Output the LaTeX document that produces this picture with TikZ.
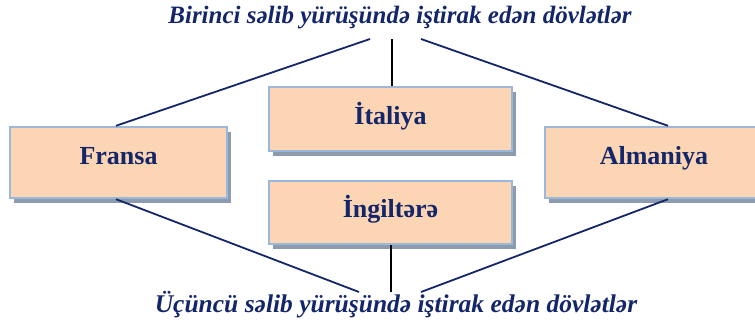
\documentclass[tikz,border=0pt]{standalone}
\usepackage{fontspec}
\setmainfont{Liberation Serif}
\usetikzlibrary{shadows,calc}
\definecolor{boxfill}{HTML}{FBD5B4}
\definecolor{boxedge}{HTML}{9BB8DC}
\definecolor{shade}{HTML}{8D9BAE}
\definecolor{navy}{HTML}{14266A}
\begin{document}
\begin{tikzpicture}[x=1pt,y=-1pt,
  cbox/.style={rectangle,draw=boxedge,line width=2.4pt,fill=boxfill,
    text=navy,font=\fontsize{26}{29}\selectfont\bfseries,inner sep=0pt,
    drop shadow={shadow xshift=4pt,shadow yshift=-5pt,fill=shade,opacity=1}},
  title/.style={text=navy,font=\fontsize{25.5}{29}\selectfont\bfseries\itshape,inner sep=0pt},
  conn/.style={draw=navy,line width=1.8pt},
  vconn/.style={draw=black,line width=1.8pt}]
\useasboundingbox (0,0) rectangle (755,329);
\clip (0,0) rectangle (755,329);
\node[title,font=\fontsize{25}{29}\selectfont\bfseries\itshape] (t1) at (400,18) {Birinci səlib yürüşündə iştirak edən dövlətlər};
\node[title] (t2) at (396,305) {Üçüncü səlib yürüşündə iştirak edən dövlətlər};
\node[cbox,minimum width=217pt,minimum height=71pt,text height=18pt,text depth=15pt] (fr) at (118.5,162.5) {Fransa};
\node[cbox,minimum width=218pt,minimum height=71pt,text height=18pt,text depth=15pt] (al) at (654,162.5) {Almaniya};
\node[cbox,minimum width=243pt,minimum height=64pt,text height=20pt,text depth=10pt] (it) at (390.5,119) {İtaliya};
\node[cbox,minimum width=243pt,minimum height=63pt,text height=20pt,text depth=11pt] (en) at (390.5,212.5) {İngiltərə};
\coordinate (tl) at (370,39);
\coordinate (tc) at (392,39);
\coordinate (tr) at (421,39);
\coordinate (bl) at (359,292);
\coordinate (bc) at (391,292);
\coordinate (br) at (421,292);
\coordinate (xl) at (116,0);
\coordinate (xr) at (668,0);
\draw[conn] (tl) -- (xl |- fr.north);
\draw[conn] (tr) -- (xr |- al.north);
\draw[vconn] (tc) -- (tc |- it.north);
\draw[conn] (bl) -- (xl |- fr.south);
\draw[conn] (br) -- (xr |- al.south);
\draw[vconn] (bc) -- (bc |- en.south);
\end{tikzpicture}
\end{document}
